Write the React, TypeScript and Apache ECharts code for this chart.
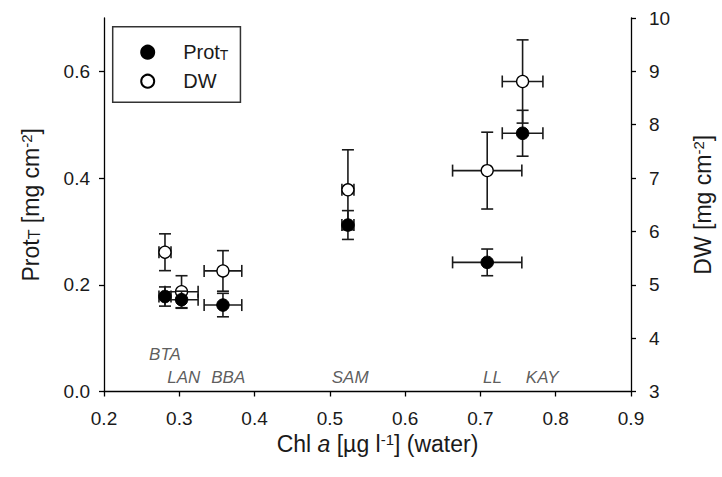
import React, { useEffect, useRef } from "react";
import * as echarts from "echarts";

// Sites and values
const sites = ["BTA", "LAN", "BBA", "SAM", "LL", "KAY"];
const chlA = [0.281, 0.303, 0.358, 0.524, 0.709, 0.756];
const chlAErr = [0.008, 0.022, 0.025, 0.008, 0.046, 0.027];
const protT = [0.178, 0.172, 0.162, 0.312, 0.242, 0.484];
const protTErr = [0.018, 0.016, 0.022, 0.027, 0.025, 0.043];
const dw = [5.61, 4.87, 5.26, 6.78, 7.14, 8.81];
const dwErr = [0.345, 0.3, 0.38, 0.75, 0.72, 0.78];
// Site label anchor positions (x in Chl a, y on Prot_T scale)
const labelX = [0.281, 0.306, 0.365, 0.527, 0.716, 0.782];
const labelY = [0.07, 0.026, 0.026, 0.026, 0.026, 0.026];

const xTicks = [0.2, 0.3, 0.4, 0.5, 0.6, 0.7, 0.8, 0.9];
const leftTicks = [0, 0.2, 0.4, 0.6];
const rightTicks = [3, 4, 5, 6, 7, 8, 9, 10];

const FONT = "Arial, 'Liberation Sans', sans-serif";
const INK = "#1a1a1a";

function errRender(params: any, api: any) {
  const x = api.value(0);
  const y = api.value(1);
  const ex = api.value(2);
  const ey = api.value(3);
  const top = api.coord([x, y + ey]);
  const bot = api.coord([x, y - ey]);
  const lft = api.coord([x - ex, y]);
  const rgt = api.coord([x + ex, y]);
  const cap = 6;
  const style = { stroke: "#1a1a1a", lineWidth: 1.6 };
  const line = (x1: number, y1: number, x2: number, y2: number) => ({
    type: "line",
    shape: { x1, y1, x2, y2 },
    style,
  });
  return {
    type: "group",
    children: [
      line(top[0], top[1], bot[0], bot[1]),
      line(top[0] - cap, top[1], top[0] + cap, top[1]),
      line(bot[0] - cap, bot[1], bot[0] + cap, bot[1]),
      line(lft[0], lft[1], rgt[0], rgt[1]),
      line(lft[0], lft[1] - cap, lft[0], lft[1] + cap),
      line(rgt[0], rgt[1] - cap, rgt[0], rgt[1] + cap),
    ],
  };
}

export default function App() {
  const ref = useRef<HTMLDivElement>(null);
  useEffect(() => {
    if (!ref.current) return;
    const chart = echarts.init(ref.current, undefined, { renderer: "svg" });
    const rich = {
      sub: { fontSize: 16, fontFamily: FONT, color: INK, verticalAlign: "bottom", lineHeight: 14 },
      sup: { fontSize: 15, fontFamily: FONT, color: INK, verticalAlign: "top", lineHeight: 14 },
      i: { fontSize: 23, fontFamily: FONT, color: INK, fontStyle: "italic" },
    };
    const axisLine = { show: true, lineStyle: { color: "#000", width: 1.3 } };
    const axisTick = { show: true, inside: false, length: 5, lineStyle: { color: "#000", width: 1.3 } };
    const tickLabel = { fontSize: 19, fontFamily: FONT, color: INK };
    const titleStyle = { fontSize: 23, fontFamily: FONT, color: INK, rich };
    const option: any = {
      animation: false,
      backgroundColor: "#fff",
      grid: { left: 104, right: 88, top: 18, bottom: 85.5, containLabel: false },
      legend: {
        orient: "vertical",
        left: 112.7,
        top: 26.7,
        data: [
          { name: "Prot", icon: "circle" },
          { name: "DW", icon: "circle" },
        ],
        itemWidth: 13,
        itemHeight: 13,
        itemGap: 9,
        padding: [15.5, 12, 11, 27.5],
        borderColor: "#333",
        borderWidth: 1.5,
        selectedMode: false,
        formatter: (name: string) => (name === "Prot" ? "Prot{sub|T}" : name),
        textStyle: {
          fontSize: 20,
          fontFamily: FONT,
          color: INK,
          lineHeight: 20,
          padding: [0, 0, 0, 24],
          rich: {
            sub: { fontSize: 14, fontFamily: FONT, color: INK, verticalAlign: "bottom", lineHeight: 12 },
          },
        },
      },
      xAxis: {
        type: "value",
        min: 0.2,
        max: 0.9,
        interval: 0.1,
        name: "Chl {i|a} [µg l{sup|-1}] (water)",
        nameLocation: "middle",
        nameGap: 34,
        nameTextStyle: { ...titleStyle, padding: [0, 0, 0, 20] },
        axisLine,
        axisTick,
        splitLine: { show: false },
        axisLabel: {
          ...tickLabel,
          margin: 17,
          customValues: xTicks,
          formatter: (v: number) => v.toFixed(1),
        },
      },
      yAxis: [
        {
          type: "value",
          min: 0,
          max: 0.7,
          interval: 0.1,
          name: "Prot{sub|T} [mg cm{sup|-2}]",
          nameLocation: "middle",
          nameGap: 62,
          nameRotate: 90,
          nameTextStyle: titleStyle,
          axisLine,
          axisTick: { ...axisTick, customValues: leftTicks },
          splitLine: { show: false },
          axisLabel: {
            ...tickLabel,
            margin: 14,
            customValues: leftTicks,
            formatter: (v: number) => v.toFixed(1),
          },
        },
        {
          type: "value",
          min: 3,
          max: 10,
          interval: 1,
          position: "right",
          name: "DW [mg cm{sup|-2}]",
          nameLocation: "middle",
          nameGap: 60,
          nameRotate: 90,
          nameTextStyle: titleStyle,
          axisLine,
          axisTick: { ...axisTick, customValues: rightTicks },
          splitLine: { show: false },
          axisLabel: {
            ...tickLabel,
            margin: 18,
            customValues: rightTicks,
          },
        },
      ],
      series: [
        {
          name: "DW err",
          type: "custom",
          yAxisIndex: 1,
          renderItem: errRender,
          encode: { x: 0, y: 1 },
          data: sites.map((_, i) => [chlA[i], dw[i], chlAErr[i], dwErr[i]]),
          silent: true,
          z: 2,
        },
        {
          name: "DW",
          type: "scatter",
          yAxisIndex: 1,
          symbol: "circle",
          symbolSize: 12,
          itemStyle: { color: "#fff", borderColor: "#000", borderWidth: 1.3, opacity: 1 },
          data: sites.map((_, i) => [chlA[i], dw[i]]),
          z: 3,
        },
        {
          name: "Prot err",
          type: "custom",
          yAxisIndex: 0,
          renderItem: errRender,
          encode: { x: 0, y: 1 },
          data: sites.map((_, i) => [chlA[i], protT[i], chlAErr[i], protTErr[i]]),
          silent: true,
          z: 4,
        },
        {
          name: "Prot",
          type: "scatter",
          yAxisIndex: 0,
          symbol: "circle",
          symbolSize: 12.5,
          itemStyle: { color: "#000", borderColor: "#000", borderWidth: 1, opacity: 1 },
          data: sites.map((_, i) => [chlA[i], protT[i]]),
          z: 5,
        },
        {
          name: "sites",
          type: "scatter",
          yAxisIndex: 0,
          symbolSize: 0,
          silent: true,
          data: sites.map((s, i) => ({ name: s, value: [labelX[i], labelY[i]] })),
          label: {
            show: true,
            position: "inside",
            formatter: (p: any) => p.name,
            fontSize: 17,
            fontStyle: "italic",
            fontFamily: FONT,
            color: "#333",
          },
          z: 6,
        },
      ],
    };
    chart.setOption(option);
    return () => chart.dispose();
  }, []);
  return <div ref={ref} style={{ width: 722, height: 477, position: "absolute", left: 0, top: 0 }} />;
}
